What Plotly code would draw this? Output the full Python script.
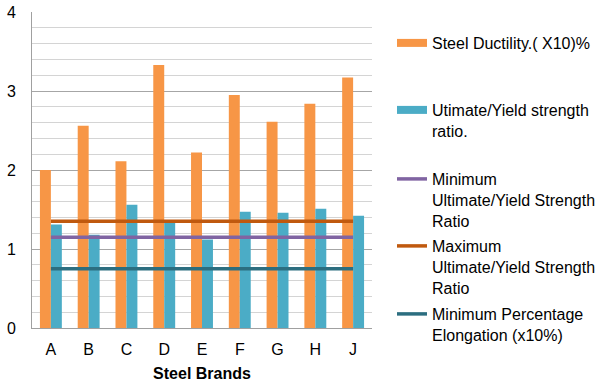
import plotly.graph_objects as go

brands = ["A", "B", "C", "D", "E", "F", "G", "H", "J"]
ductility = [2.00, 2.56, 2.11, 3.33, 2.22, 2.95, 2.61, 2.84, 3.17]
uy_ratio = [1.31, 1.18, 1.56, 1.34, 1.12, 1.47, 1.46, 1.51, 1.42]
min_uy = [1.15] * len(brands)
max_uy = [1.35] * len(brands)
min_elong = [0.75] * len(brands)

c_duct = "#F79646"
c_ratio = "#4BACC6"
c_min = "#8064A2"
c_max = "#C0590E"
c_elong = "#2C6E80"

FONT = "Liberation Sans, Arial, sans-serif"
FS = 16
W, H = 596, 382

fig = go.Figure()

fig.add_trace(go.Bar(x=brands, y=ductility, marker_color=c_duct, marker_line_width=0,
                     name="Steel Ductility.( X10)%", showlegend=False, legendgroup="d"))
fig.add_trace(go.Bar(x=brands, y=uy_ratio, marker_color=c_ratio, marker_line_width=0,
                     name="Utimate/Yield strength ratio.", showlegend=False, legendgroup="r"))

fig.add_trace(go.Scatter(x=brands, y=min_uy, mode="lines", line=dict(color=c_min, width=3.5),
                         name="Minimum<br>Ultimate/Yield Strength<br>Ratio", legend="legend3"))
fig.add_trace(go.Scatter(x=brands, y=max_uy, mode="lines", line=dict(color=c_max, width=3.5),
                         name="Maximum<br>Ultimate/Yield Strength<br>Ratio", legend="legend4"))
fig.add_trace(go.Scatter(x=brands, y=min_elong, mode="lines", line=dict(color=c_elong, width=3.5),
                         name="Minimum Percentage<br>Elongation (x10%)", legend="legend5"))

# legend swatches for the bar series
fig.add_trace(go.Scatter(x=[None], y=[None], mode="lines", line=dict(color=c_duct, width=8),
                         name="Steel Ductility.( X10)%", legend="legend", legendgroup="d"))
fig.add_trace(go.Scatter(x=[None], y=[None], mode="lines", line=dict(color=c_ratio, width=8),
                         name="Utimate/Yield strength<br>ratio.", legend="legend2", legendgroup="r"))

L, T, PW, PH = 32, 12, 340, 316


def legend_at(first_line_y):
    return dict(x=392 / W, y=1 - (first_line_y - 17) / H, xref="container", yref="container",
                xanchor="left", yanchor="top", valign="top",
                font=dict(family=FONT, size=FS, color="#000"),
                bgcolor="rgba(0,0,0,0)", tracegroupgap=0, itemclick=False)


fig.update_layout(
    width=W, height=H,
    margin=dict(l=L, r=W - L - PW, t=T, b=H - T - PH, autoexpand=False),
    paper_bgcolor="white", plot_bgcolor="white",
    font=dict(family=FONT, size=FS, color="#000"),
    barmode="group", bargap=0.42, bargroupgap=0,
    legend=legend_at(43),
    legend2=legend_at(110),
    legend3=legend_at(179),
    legend4=legend_at(246),
    legend5=legend_at(314),
    xaxis=dict(
        range=[-0.5, 8.5], showgrid=False, showline=True, linecolor="#A0A0A0", linewidth=1,
        ticks="", ticklabelstandoff=7, tickfont=dict(size=FS, color="#000"),
        title=dict(text="<b>Steel Brands</b>", font=dict(size=FS, color="#000"), standoff=13),
        zeroline=False, automargin=False,
    ),
    yaxis=dict(
        range=[0, 4], dtick=1, showgrid=True, gridcolor="#A6A6A6", gridwidth=1,
        minor=dict(dtick=0.2, showgrid=True, gridcolor="#D4D4D4", gridwidth=1),
        showline=True, linecolor="#A0A0A0", linewidth=1, zeroline=False,
        ticks="", ticklabelstandoff=12, tickfont=dict(size=FS, color="#000"),
        automargin=False,
    ),
)

fig.write_html("out.html")
